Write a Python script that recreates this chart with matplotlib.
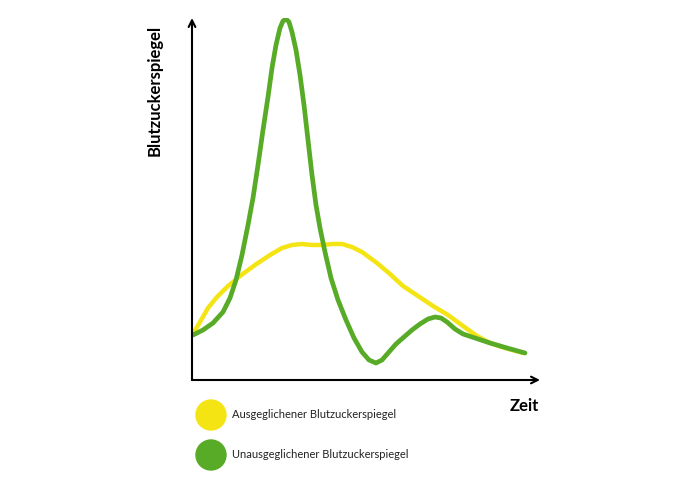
import matplotlib.pyplot as plt
from matplotlib.patches import Circle

plt.rcParams['font.family'] = ['Lato', 'DejaVu Sans']

# values (time units, level units)
zeit_gelb = [1, 8, 16, 25, 35, 48, 63, 78, 90, 100, 110, 120, 130, 140, 150, 160,
             170, 185, 198, 211, 226, 241, 256, 271, 285, 298, 313, 331]
wert_gelb = [46, 58, 72, 83, 93, 104, 115, 125, 132, 135, 136, 135, 135, 136, 136,
             133, 128, 117, 106, 94, 84, 74, 65, 54, 44, 37, 32, 27]

zeit_gruen = [1, 11, 21, 31, 38, 44, 50, 56, 61, 66, 71, 76, 80, 84, 88, 91, 94, 97,
              100, 104, 108, 112, 116, 120, 124, 128, 133, 139, 146, 154, 162, 170,
              177, 184, 190, 197, 204, 212, 220, 228, 236, 243, 249, 255, 263, 271,
              283, 298, 315, 333]
wert_gruen = [45, 50, 57, 68, 82, 100, 125, 155, 182, 215, 250, 283, 312, 335, 352,
              359, 361, 358, 348, 330, 305, 275, 240, 205, 175, 152, 128, 102, 80,
              60, 42, 28, 20, 17, 20, 28, 36, 43, 50, 56, 61, 63, 62, 58, 51, 46,
              42, 37, 32, 27]

labels = ['Ausgeglichener Blutzuckerspiegel', 'Unausgeglichener Blutzuckerspiegel']
farben = ['#F5E414', '#58AB27']

fig = plt.figure(figsize=(7, 4.8), dpi=100)
ax = fig.add_axes([192 / 700, 100 / 480, 348 / 700, 362 / 480])
ax.set_xlim(0, 348)
ax.set_ylim(0, 362)
ax.axis('off')

ax.plot(zeit_gelb, wert_gelb, color=farben[0], lw=3.2, solid_capstyle='round',
        solid_joinstyle='round')
ax.plot(zeit_gruen, wert_gruen, color=farben[1], lw=3.4, solid_capstyle='round',
        solid_joinstyle='round')

# axes with arrows
arrow = dict(arrowstyle='->', lw=1.5, color='black', mutation_scale=12,
             shrinkA=0, shrinkB=0)
ax.annotate('', xy=(0, 1), xytext=(0, 0), xycoords='axes fraction', arrowprops=arrow)
ax.annotate('', xy=(1, 0), xytext=(0, 0), xycoords='axes fraction', arrowprops=arrow)

fig.text(155 / 700, 1 - 90 / 480, 'Blutzuckerspiegel', rotation=90, fontsize=12,
         fontweight='bold', ha='center', va='center')
fig.text(524 / 700, 1 - 406 / 480, 'Zeit', fontsize=12, fontweight='bold',
         ha='center', va='center')

# legend
for i, (lab, col) in enumerate(zip(labels, farben)):
    cy = 415 + 40 * i
    fig.patches.append(Circle((211, 480 - cy), 15, transform=None, color=col))
    fig.text(232 / 700, 1 - cy / 480, lab, fontsize=8, ha='left', va='center',
             color='#222222')

fig.savefig('out.png', dpi=100)
